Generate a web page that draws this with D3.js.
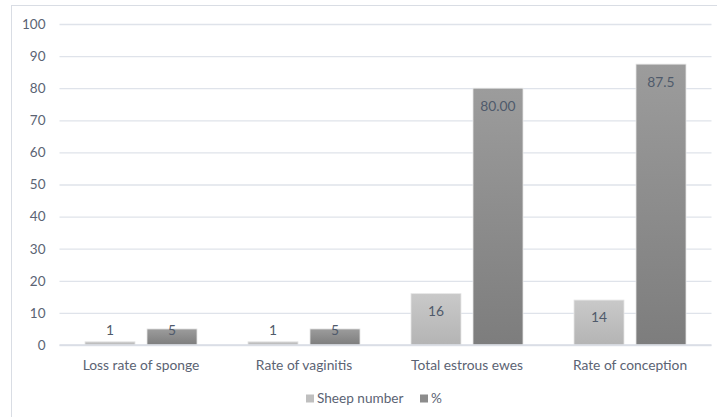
<!DOCTYPE html>
<html>
<head>
<meta charset="utf-8">
<script src="https://cdn.jsdelivr.net/npm/d3@7"></script>
<style>
  html, body { margin: 0; padding: 0; background: #fff; }
  svg { display: block; font-family: Lato, "Open Sans", sans-serif; }
</style>
</head>
<body>
<svg id="chart" width="717" height="417"></svg>
<script>
// Sponge treatment results
const categories = ["Loss rate of sponge", "Rate of vaginitis", "Total estrous ewes", "Rate of conception"];
const seriesNames = ["Sheep number", "%"];
const sheepNumber = [1, 1, 16, 14];
const percent = [5, 5, 80, 87.5];
const percentLabels = ["5", "5", "80.00", "87.5"];
const yTicks = [0, 10, 20, 30, 40, 50, 60, 70, 80, 90, 100];

const rows = categories.map((c, i) => ({
  category: c,
  values: [
    { series: seriesNames[0], value: sheepNumber[i], label: String(sheepNumber[i]) },
    { series: seriesNames[1], value: percent[i], label: percentLabels[i] }
  ]
}));

const svg = d3.select("#chart");
const textColor = "#5b6373";
const margin = { left: 59.5, right: 5.5, top: 24, bottom: 72 };
const W = 717, H = 417;

// chart area frame
svg.append("rect")
  .attr("x", 11.5).attr("y", 5.5)
  .attr("width", 720).attr("height", 430)
  .attr("fill", "none").attr("stroke", "#d9dde4").attr("stroke-width", 1);

const x = d3.scaleBand().domain(categories)
  .range([margin.left, W - margin.right]).paddingInner(0).paddingOuter(0);
const x1 = d3.scaleBand().domain(seriesNames)
  .range([25.5, x.bandwidth() - 25.5]).paddingInner(12 / 62).paddingOuter(0);
const y = d3.scaleLinear().domain([0, 100]).range([H - margin.bottom, margin.top]);

// gradients for bar fills
const defs = svg.append("defs");
const grads = [
  { id: "g0", top: "#c9c9c9", bottom: "#b4b4b4" },
  { id: "g1", top: "#9c9c9c", bottom: "#7d7d7d" }
];
grads.forEach(g => {
  const lg = defs.append("linearGradient").attr("id", g.id)
    .attr("x1", 0).attr("y1", 0).attr("x2", 0).attr("y2", 1);
  lg.append("stop").attr("offset", "0%").attr("stop-color", g.top);
  lg.append("stop").attr("offset", "100%").attr("stop-color", g.bottom);
});

// y axis with gridlines
const yAxis = svg.append("g")
  .attr("transform", `translate(${margin.left},0)`)
  .call(d3.axisLeft(y).tickValues(yTicks).tickSize(-(W - margin.left - margin.right)).tickPadding(14));
yAxis.select(".domain").remove();
yAxis.selectAll(".tick line").attr("stroke", "#dfe3ea").attr("stroke-width", 1.3);
yAxis.selectAll(".tick text")
  .attr("fill", textColor).attr("font-size", 13.5)
  .attr("font-family", "Lato, sans-serif");

// bars
const groups = svg.append("g").selectAll("g").data(rows).join("g")
  .attr("transform", d => `translate(${x(d.category)},0)`);

groups.selectAll("rect").data(d => d.values).join("rect")
  .attr("x", d => x1(d.series))
  .attr("y", d => y(d.value))
  .attr("width", x1.bandwidth())
  .attr("height", d => y(0) - y(d.value))
  .attr("fill", (d, i) => `url(#g${i})`)
  .attr("stroke", "#e6e6e6").attr("stroke-width", 0.8);

// value labels: inside the bar top when it fits, otherwise just above the baseline
groups.selectAll("text.val").data(d => d.values).join("text")
  .attr("class", "val")
  .attr("x", d => x1(d.series) + x1.bandwidth() / 2)
  .attr("y", d => {
    const h = y(0) - y(d.value);
    return h > 35 ? y(d.value) + 17.6 : y(0) - 15;
  })
  .attr("dy", "0.35em")
  .attr("text-anchor", "middle")
  .attr("fill", "#4f5a6b").attr("font-size", 13.8)
  .text(d => d.label);

// baseline
svg.append("line")
  .attr("x1", margin.left).attr("x2", W - margin.right)
  .attr("y1", y(0)).attr("y2", y(0))
  .attr("stroke", "#d9dde4").attr("stroke-width", 1.3);

// category axis labels
svg.append("g").selectAll("text").data(categories).join("text")
  .attr("x", d => x(d) + x.bandwidth() / 2)
  .attr("y", 365).attr("dy", "0.35em")
  .attr("text-anchor", "middle")
  .attr("fill", textColor).attr("font-size", 13.8)
  .text(d => d);

// legend
const legendItems = [
  { name: seriesNames[0], color: "#bfbfbf", x: 306 },
  { name: seriesNames[1], color: "#8c8c8c", x: 420 }
];
const lg = svg.append("g").selectAll("g").data(legendItems).join("g")
  .attr("transform", d => `translate(${d.x},394.5)`);
lg.append("rect").attr("width", 8).attr("height", 8).attr("fill", d => d.color);
lg.append("text").attr("x", 11).attr("y", 4).attr("dy", "0.35em")
  .attr("fill", textColor).attr("font-size", 13.6).text(d => d.name);
</script>
</body>
</html>
